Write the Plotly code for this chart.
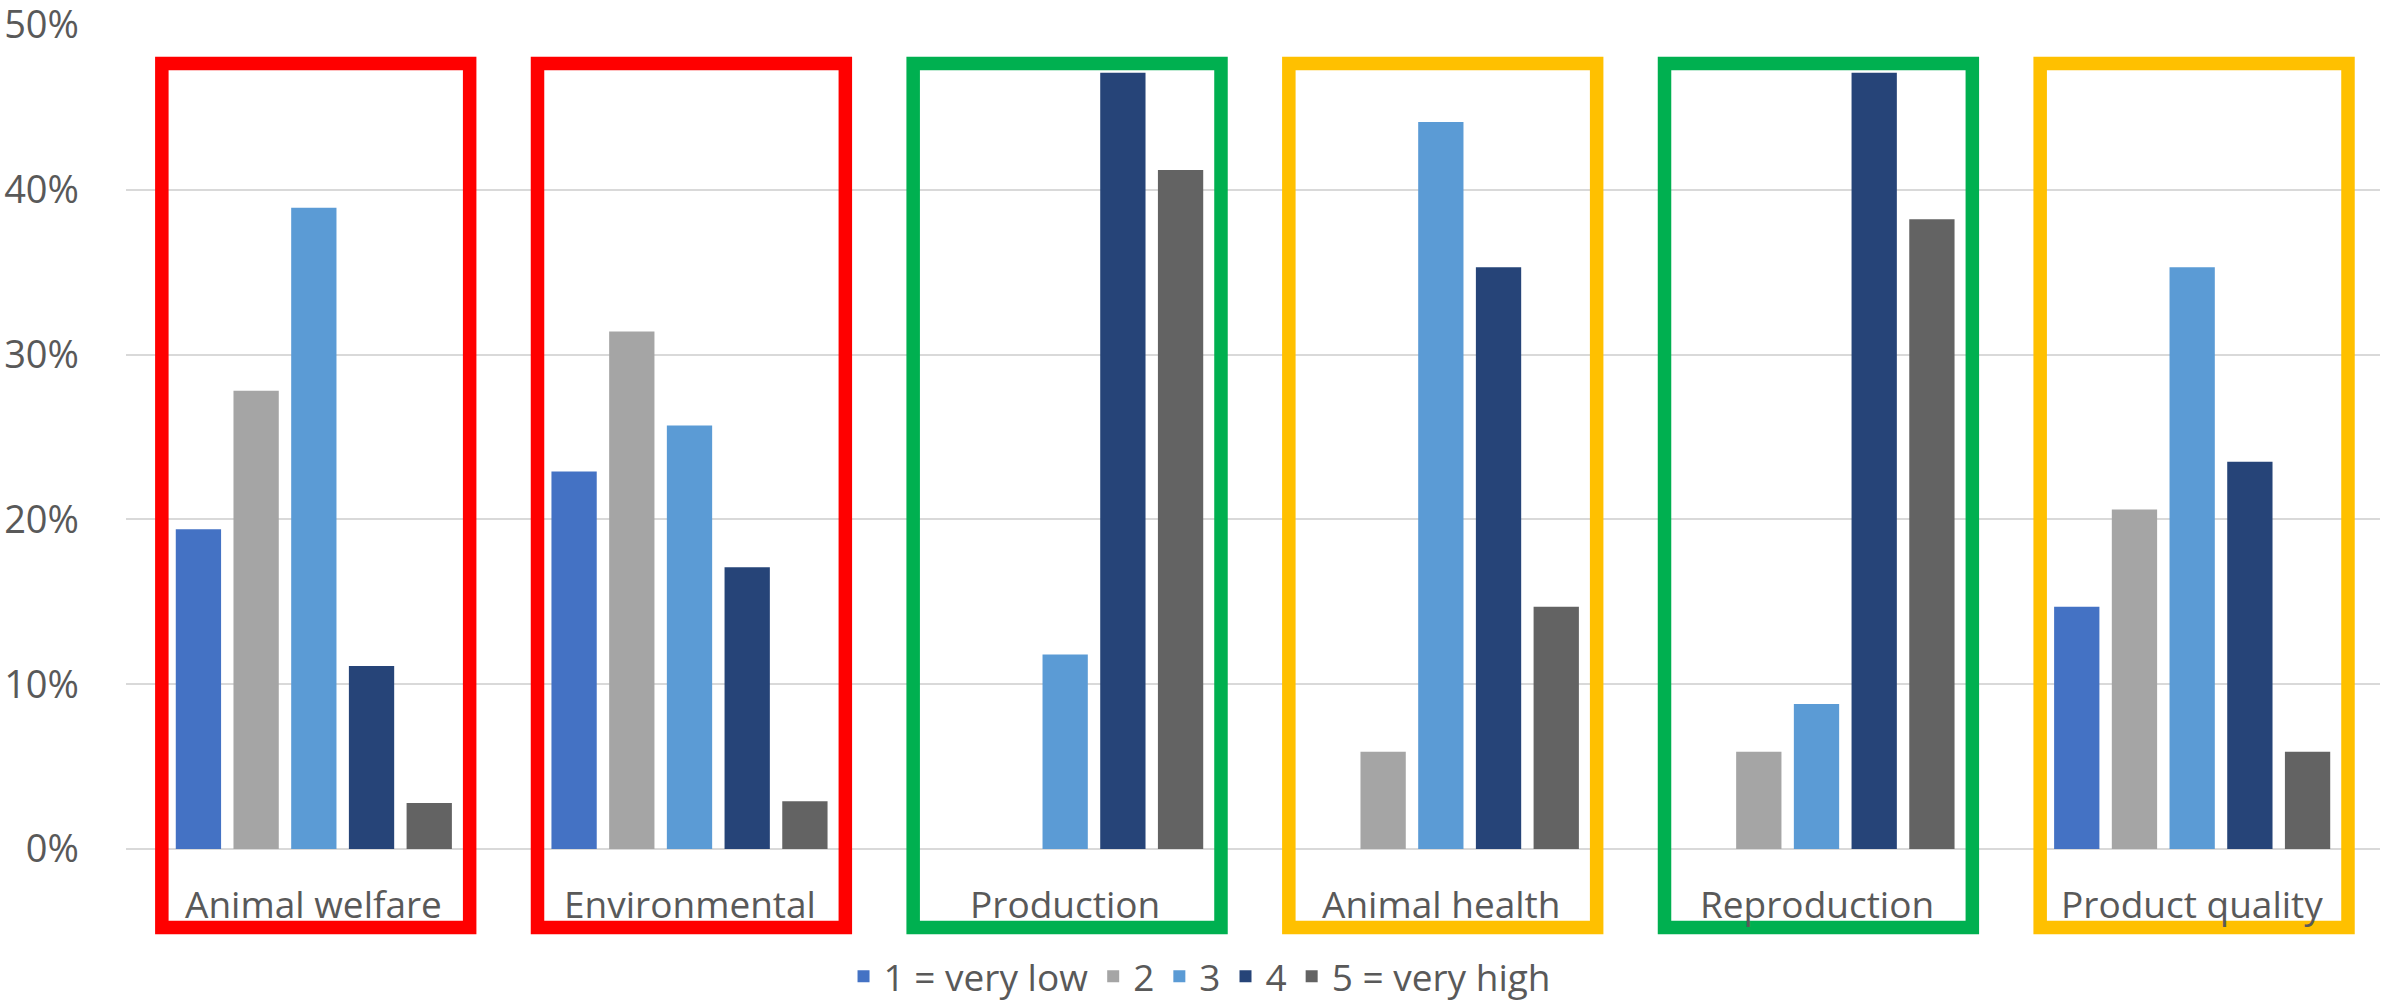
import plotly.graph_objects as go

categories = ["Animal welfare", "Environmental", "Production", "Animal health", "Reproduction", "Product quality"]
series_names = ["1 = very low", "2", "3", "4", "5 = very high"]
# share of respondents per rating, by category
rating_1 = [0.194, 0.229, 0.0, 0.0, 0.0, 0.147]
rating_2 = [0.278, 0.314, 0.0, 0.059, 0.059, 0.206]
rating_3 = [0.389, 0.257, 0.118, 0.441, 0.088, 0.353]
rating_4 = [0.111, 0.171, 0.471, 0.353, 0.471, 0.235]
rating_5 = [0.028, 0.029, 0.412, 0.147, 0.382, 0.059]
box_colors = ["#FF0000", "#FF0000", "#00B050", "#FFC000", "#00B050", "#FFC000"]
y_ticks = [0, 0.1, 0.2, 0.3, 0.4, 0.5]

series_values = [rating_1, rating_2, rating_3, rating_4, rating_5]
series_colors = ["#4472C4", "#A5A5A5", "#5B9BD5", "#264478", "#636363"]

TEXT = "#595959"
FONT = "Open Sans"

fig = go.Figure()
for name, vals, col in zip(series_names, series_values, series_colors):
    fig.add_trace(go.Bar(x=categories, y=vals, name=name, marker=dict(color=col, line=dict(width=0))))

# highlight boxes around each category group
for i, col in enumerate(box_colors):
    fig.add_shape(type="rect", xref="x", yref="y",
                  x0=i - 0.4046, x1=i + 0.4148, y0=-0.0475, y1=0.4765,
                  line=dict(color=col, width=13.5), fillcolor="rgba(0,0,0,0)", layer="above")

# category labels inside the boxes
for c in categories:
    fig.add_annotation(x=c, y=-0.033, xref="x", yref="y", text=c, showarrow=False,
                       xanchor="center", yanchor="middle",
                       font=dict(family=FONT, size=37, color=TEXT))

fig.update_layout(
    width=2394, height=1001,
    margin=dict(l=126, r=14, t=23.5, b=53, autoexpand=False),
    paper_bgcolor="white", plot_bgcolor="white",
    barmode="group", bargap=0.232, bargroupgap=0.215,
    font=dict(family=FONT, color=TEXT),
    legend=dict(orientation="h", x=0.4765, xanchor="center", y=-0.031, yanchor="middle",
                font=dict(family=FONT, size=37, color=TEXT), bgcolor="rgba(0,0,0,0)"),
    showlegend=True,
)
fig.update_xaxes(showticklabels=False, showgrid=False, zeroline=False, showline=False,
                 range=[-0.5, 5.5])
fig.update_yaxes(range=[-0.06, 0.5005], tickvals=y_ticks, tickformat=".0%",
                 showgrid=True, gridcolor="#D9D9D9", gridwidth=2, zeroline=False,
                 showline=False, ticks="", ticklabelstandoff=46, ticklabeloverflow="allow",
                 tickfont=dict(family=FONT, size=38, color=TEXT))

fig.write_html("out.html")
